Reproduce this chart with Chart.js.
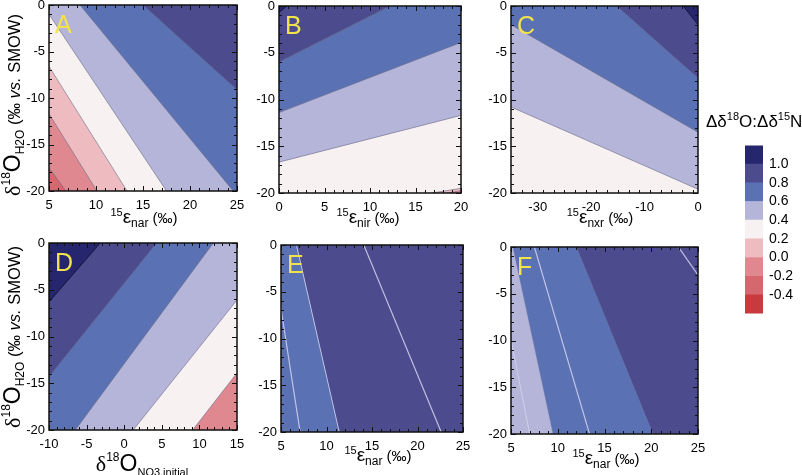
<!DOCTYPE html>
<html><head><meta charset="utf-8">
<script src="https://cdn.jsdelivr.net/npm/chart.js@4"></script>
<style>
html,body{margin:0;padding:0;background:#fff;}
body{width:802px;height:475px;position:relative;overflow:hidden;font-family:"Liberation Sans",Arial,sans-serif;color:#000;}
canvas{position:absolute;}
.t{position:absolute;white-space:nowrap;text-align:center;}
.xt{width:200px;font-size:15px;line-height:20px;height:20px;}
.eps{font-size:19px;}
.sup{font-size:11px;position:relative;top:-7px;}
.sub{font-size:12px;position:relative;top:4px;}
.yt{width:220px;height:26px;line-height:26px;font-size:16.5px;transform:rotate(-90deg);}
.big{font-size:23px;}
.dl{font-family:"Liberation Serif","DejaVu Serif",serif;font-size:22px;}
.ysup{font-size:12px;position:relative;top:-10px;}
.ysub{font-size:12px;position:relative;top:4px;}
</style></head><body>
<script>
// ---------------- DATA ----------------
// shared y axis of every panel: δ18O of water (‰ vs. SMOW)
const yTicks = [0, -5, -10, -15, -20];

// contour levels of Δδ18O:Δδ15N (band colour = band above the level)
const bandLevels = [-0.6, -0.4, -0.2, 0.0, 0.2, 0.4, 0.6, 0.8, 1.0];

// Panel A : 15ε_nar (x) vs δ18O_H2O (y)
const A_xTicks = [5, 10, 15, 20, 25];
const A_levels = [-0.2, 0.0, 0.2, 0.4, 0.6, 0.8];
const A_contours = [
  [[5, -17.5], [6.8, -20]],
  [[5, -11.7], [10.1, -20]],
  [[5, -6.6], [13.3, -20]],
  [[5, -1.0], [17.5, -20]],
  [[8.3, 0], [24.6, -20]],
  [[15.0, 0], [25, -9.1]]
];
const A_base = -0.4;
const A_guides = [];

// Panel B : 15ε_nir
const B_xTicks = [0, 5, 10, 15, 20];
const B_levels = [0.0, 0.2, 0.4, 0.6, 0.8, 1.0];
const B_contours = [
  [[18.5, -20], [20, -19.75]],
  [[16.8, -20], [20, -19.5]],
  [[0, -16.7], [20, -11.7]],
  [[0, -11.4], [20, -3.9]],
  [[0, -6.0], [12.2, 0]],
  [[0, -0.7], [0.85, 0]]
];
const B_base = -0.2;
const B_guides = [];

// Panel C : 15ε_nxr
const C_xTicks = [-30, -20, -10, 0];
const C_levels = [0.4, 0.6, 0.8, 1.0];
const C_contours = [
  [[-35, -10.8], [0, -19.6]],
  [[-35, -2.0], [0, -13.5]],
  [[-15.2, 0], [0, -7.7]],
  [[-2.75, 0], [0, -2.0]]
];
const C_base = 0.2;
const C_guides = [];

// Panel D : δ18O_NO3,initial
const D_xTicks = [-10, -5, 0, 5, 10, 15];
const D_levels = [0.2, 0.4, 0.6, 0.8, 1.0];
const D_contours = [
  [[9.1, -20], [15, -13.9]],
  [[1.2, -20], [15, -6.1]],
  [[-6.5, -20], [11.85, 0]],
  [[-10, -14.3], [4.3, 0]],
  [[-10, -6.3], [-3.2, 0]]
];
const D_base = -0.2;
const D_guides = [];

// Panel E : 15ε_nar
const E_xTicks = [5, 10, 15, 20, 25];
const E_levels = [0.8];
const E_contours = [[[6.7, 0], [11.4, -20]]];
const E_base = 0.6;
const E_guides = [
  [[5, -6.8], [7.1, -20]],
  [[14.1, 0], [22.6, -20]]
];

// Panel F : 15ε_nar
const F_xTicks = [5, 10, 15, 20, 25];
const F_levels = [0.6, 0.8];
const F_contours = [
  [[5.2, 0], [9.5, -20]],
  [[12.0, 0], [20.2, -20]]
];
const F_base = 0.4;
const F_guides = [
  [[5, -9.9], [7.0, -20]],
  [[7.5, 0], [13.4, -20]],
  [[22.9, 0], [25, -3.0]]
];

// colour bar
const cbTickLabels = ['-0.4', '-0.2', '0.0', '0.2', '0.4', '0.6', '0.8', '1.0'];
const cbSegments = [1, 1, 1, 1, 1, 1, 1, 1, 1];

// ---------------- STYLE ----------------
const bandColors = ['#c83a3e', '#d4686e', '#df8890', '#eebcc0', '#f8f1f1', '#b5b5d9', '#5a72b4', '#4b4b8d', '#26266e'];
function bandColor(level) {
  let best = 0;
  bandLevels.forEach((v, i) => { if (Math.abs(v - level) < Math.abs(bandLevels[best] - level)) best = i; });
  return bandColors[best];
}
const FONT = '"Liberation Sans", Arial, sans-serif';
const LINE_GRAY = 'rgba(105,105,135,0.6)';
const LINE_LIGHT = 'rgba(205,205,235,0.9)';

const panels = [
  {key:'A', box:[49,5,237,191], xr:[5,25], xt:A_xTicks, minor:1, levels:A_levels, contours:A_contours, base:A_base, guides:A_guides, edge:LINE_GRAY},
  {key:'B', box:[279,6,461,193], xr:[0,20], xt:B_xTicks, minor:1, levels:B_levels, contours:B_contours, base:B_base, guides:B_guides, edge:LINE_GRAY},
  {key:'C', box:[511,6,698,193], xr:[-35,0], xt:C_xTicks, minor:2, levels:C_levels, contours:C_contours, base:C_base, guides:C_guides, edge:LINE_GRAY},
  {key:'D', box:[49,243,237,430], xr:[-10,15], xt:D_xTicks, minor:1, levels:D_levels, contours:D_contours, base:D_base, guides:D_guides, edge:LINE_GRAY},
  {key:'E', box:[281,245,463,432], xr:[5,25], xt:E_xTicks, minor:1, levels:E_levels, contours:E_contours, base:E_base, guides:E_guides, edge:LINE_LIGHT},
  {key:'F', box:[511,247,698,434], xr:[5,25], xt:F_xTicks, minor:1, levels:F_levels, contours:F_contours, base:F_base, guides:F_guides, edge:'rgba(120,120,160,0.35)'}
];

// a contour segment, continued past the frame so that
// the band above it can be filled to the top of the scale (clipped by the chart area)
function continued(seg) {
  const [x0, y0] = seg[0], [x1, y1] = seg[1];
  const dx = x1 - x0, dy = y1 - y0, T = 40;
  const a = {x: x0 - T * dx, y: y0 - T * dy}, b = {x: x0 + T * dx, y: y0 + T * dy};
  return a.x <= b.x ? [a, b] : [b, a];
}

const deco = {
  id: 'deco',
  beforeDraw(chart, args, o) {
    const {ctx, chartArea: a} = chart;
    ctx.save();
    ctx.fillStyle = o.base;
    ctx.fillRect(a.left, a.top, a.right - a.left, a.bottom - a.top);
    ctx.restore();
  },
  afterDraw(chart, args, o) {
    const {ctx, chartArea: a, scales} = chart;
    ctx.save();
    ctx.strokeStyle = '#111';
    ctx.lineWidth = 1;
    ctx.beginPath();
    const xs = scales.x, ys = scales.y;
    for (let v = xs.min; v <= xs.max + 1e-9; v += o.minor) {
      const px = Math.round(xs.getPixelForValue(v)) + 0.5;
      const major = o.xt.some(t => Math.abs(t - v) < 1e-9);
      const L = major ? 5 : 3;
      ctx.moveTo(px, a.bottom); ctx.lineTo(px, a.bottom - L);
      ctx.moveTo(px, a.top); ctx.lineTo(px, a.top + L);
    }
    for (let v = ys.min; v <= ys.max + 1e-9; v += 1) {
      const py = Math.round(ys.getPixelForValue(v)) + 0.5;
      const major = yTicks.some(t => Math.abs(t - v) < 1e-9);
      const L = major ? 5 : 3;
      ctx.moveTo(a.left, py); ctx.lineTo(a.left + L, py);
      ctx.moveTo(a.right, py); ctx.lineTo(a.right - L, py);
    }
    ctx.stroke();
    ctx.lineWidth = 1.5;
    ctx.strokeRect(a.left, a.top, a.right - a.left, a.bottom - a.top);
    ctx.font = '25px ' + FONT;
    ctx.fillStyle = '#f2e34a';
    ctx.textBaseline = 'alphabetic';
    ctx.fillText(o.letter, a.left + 6, a.top + 28);
    ctx.restore();
  }
};

const LP = 44, TP = 14, RP = 16, BP = 30;
panels.forEach(p => {
  const [l, t, r, b] = p.box;
  const cv = document.createElement('canvas');
  cv.width = (r - l) + LP + RP; cv.height = (b - t) + TP + BP;
  cv.style.left = (l - LP) + 'px'; cv.style.top = (t - TP) + 'px';
  document.body.appendChild(cv);
  const datasets = [];
  p.guides.forEach(g => datasets.push({data: continued(g), showLine: true, fill: false, borderColor: LINE_LIGHT, borderWidth: 1.2, pointRadius: 0}));
  const order = p.levels.map((v, i) => i).sort((i, j) => p.levels[j] - p.levels[i]);
  order.forEach(i => {
    const lv = p.levels[i];
    datasets.push({
      data: continued(p.contours[i]), showLine: true, fill: 'end',
      backgroundColor: bandColor(lv), borderColor: lv >= 1.0 ? '#15153a' : p.edge,
      borderWidth: 1, pointRadius: 0
    });
  });
  new Chart(cv, {
    type: 'scatter',
    data: {datasets},
    options: {
      responsive: false, animation: false, devicePixelRatio: 1, events: [],
      layout: {padding: {top: TP, right: RP, left: 0, bottom: 0}},
      plugins: {legend: {display: false}, tooltip: {enabled: false},
        deco: {base: bandColor(p.base), letter: p.key, minor: p.minor, xt: p.xt}},
      scales: {
        x: {type: 'linear', min: p.xr[0], max: p.xr[1],
          grid: {display: false, drawTicks: false}, border: {display: false},
          ticks: {font: {family: FONT, size: 13}, color: '#000', padding: 7, maxRotation: 0, autoSkip: false},
          afterBuildTicks: s => { s.ticks = p.xt.map(v => ({value: v})); },
          afterFit: s => { s.height = BP; }},
        y: {type: 'linear', min: -20, max: 0,
          grid: {display: false, drawTicks: false}, border: {display: false},
          ticks: {font: {family: FONT, size: 13}, color: '#000', padding: 4, autoSkip: false},
          afterBuildTicks: s => { s.ticks = yTicks.map(v => ({value: v})); },
          afterFit: s => { s.width = LP; }}
      }
    },
    plugins: [deco]
  });
});

// colour bar
(function () {
  const box = [745, 145, 763, 314];
  const T = 14, B = 14, W = 50;
  const cv = document.createElement('canvas');
  cv.width = (box[2] - box[0]) + W; cv.height = (box[3] - box[1]) + T + B;
  cv.style.left = box[0] + 'px'; cv.style.top = (box[1] - T) + 'px';
  document.body.appendChild(cv);
  new Chart(cv, {
    type: 'bar',
    data: {labels: [''], datasets: cbSegments.map((v, i) => ({data: [v], backgroundColor: bandColors[i], borderWidth: 0, barPercentage: 1, categoryPercentage: 1}))},
    options: {
      responsive: false, animation: false, devicePixelRatio: 1, events: [],
      layout: {padding: {top: T, bottom: B, left: 0, right: 0}},
      plugins: {legend: {display: false}, tooltip: {enabled: false}},
      scales: {
        x: {display: false, stacked: true},
        y: {stacked: true, position: 'right', min: 0, max: cbSegments.length,
          grid: {display: false, drawTicks: false}, border: {display: false},
          ticks: {font: {family: FONT, size: 14}, color: '#000', padding: 6, autoSkip: false,
            callback: v => cbTickLabels[v - 1]},
          afterBuildTicks: s => { s.ticks = cbTickLabels.map((_, i) => ({value: i + 1})); },
          afterFit: s => { s.width = W; }}
      }
    }
  });
})();

// ---------------- TEXT ----------------
function addText(cls, left, top, html) {
  const d = document.createElement('div');
  d.className = 't ' + cls;
  d.style.left = left + 'px'; d.style.top = top + 'px';
  d.innerHTML = html;
  document.body.appendChild(d);
}
const eps = sub => '<span class="sup">15</span><span class="eps">ε</span><span class="sub">' + sub + '</span> (‰)';
addText('xt', 44, 207, eps('nar'));
addText('xt', 268, 207, eps('nir'));
addText('xt', 500, 207, eps('nxr'));
addText('xt', 278, 445, eps('nar'));
addText('xt', 506, 448, eps('nar'));
addText('xt', 42, 453, '<span class="dl">δ</span><span class="ysup">18</span><span class="big">O</span><span class="ysub" style="font-size:11px;top:5px">NO3,initial</span>');
const ytitle = '<span class="dl">δ</span><span class="ysup">18</span><span class="big">O</span><span class="ysub">H2O</span> (‰ <i>vs.</i> SMOW)';
addText('yt', 12 - 110, 105 - 13, ytitle);
addText('yt', 12 - 110, 337 - 13, ytitle);
addText('', 706, 112, '<span style="font-size:17px">Δδ<span style="font-size:11px;position:relative;top:-7px">18</span>O:Δδ<span style="font-size:11px;position:relative;top:-7px">15</span>N</span>');
</script>
</body></html>
